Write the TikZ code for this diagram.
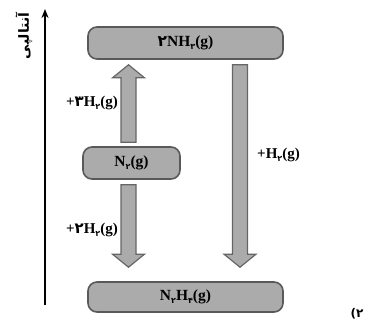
\documentclass[tikz,border=0pt]{standalone}
\usepackage{fontspec}
\setmainfont{Liberation Serif}
\newfontfamily\fa[Script=Arabic]{DejaVu Sans}
\newfontfamily\fad{DejaVu Sans}
\TeXXeTstate=1
\usetikzlibrary{arrows.meta,calc}
\newcommand\pd[1]{{\fad #1}}
\newcommand\sbs[1]{\raisebox{-0.4ex}{\footnotesize\fad #1}}
\newcommand\fatarrow[2]{%
  \coordinate (hb) at ($(#2)!13pt!(#1)$);
  \draw[fatarrowstyle] ($(#1)!7.5pt!90:(#2)$) -- ($(hb)!7.5pt!-90:(#1)$) -- ($(hb)!16pt!-90:(#1)$) -- (#2)
    -- ($(hb)!16pt!90:(#1)$) -- ($(hb)!7.5pt!90:(#1)$) -- ($(#1)!7.5pt!-90:(#2)$) -- cycle;}
\begin{document}
\begin{tikzpicture}[x=1pt,y=-1pt,
  level/.style={draw=black!65, line width=1.6pt, fill=black!33, rounded corners=9pt, inner sep=0pt,
    font=\bfseries\fontsize{15.5}{17}\selectfont},
  fatarrowstyle/.style={draw=black!60, line width=1.2pt, fill=black!33, line join=miter},
  lbl/.style={font=\bfseries\fontsize{15}{17}\selectfont, inner sep=1pt},
  axis/.style={line width=1.6pt, -{Stealth[length=9pt,width=7pt]}}]
\useasboundingbox (0,0) rectangle (369,327);
\node[level, minimum width=195pt, minimum height=32pt] (top) at (185.5,43) {\pd{۲}NH\sbs{۳}(g)};
\node[level, minimum width=97pt, minimum height=32pt] (n2) at (131.5,163) {N\sbs{۲}(g)};
\node[level, minimum width=195pt, minimum height=30pt] (bot) at (185.5,297) {N\sbs{۲}H\sbs{۴}(g)};
% up arrow N2 -> 2NH3
\coordinate (ua) at ([xshift=-3pt,yshift=4pt]n2.north);
\coordinate (ub) at ($(ua |- top.south)+(0,-5pt)$);
\fatarrow{ua}{ub}
% down arrow N2 -> N2H4
\coordinate (da) at ([xshift=-3pt,yshift=-5pt]n2.south);
\coordinate (db) at ($(da |- bot.north)+(0,14pt)$);
\fatarrow{da}{db}
% right arrow 2NH3 -> N2H4
\coordinate (ra) at ([xshift=54.5pt,yshift=-5pt]top.south);
\coordinate (rb) at ($(ra |- bot.north)+(0,14pt)$);
\fatarrow{ra}{rb}
% labels
\node[lbl, anchor=east] (l1) at (119,103) {+\pd{۳}H\sbs{۲}(g)};
\node[lbl, anchor=west] (l2) at (256,155) {+H\sbs{۲}(g)};
\node[lbl, anchor=east] (l3) at (119,230) {+\pd{۲}H\sbs{۲}(g)};
% axis
\coordinate (ax0) at (45,305);
\coordinate (ax1) at (45,9);
\draw[axis] (ax0) -- (ax1);
\node[rotate=90, font=\fa\bfseries\fontsize{14}{16}\selectfont, inner sep=0pt] (ylab) at (24,36) {\beginR آنتالپی\endR};
\node[font=\fad\bfseries\fontsize{12}{14}\selectfont, inner sep=0pt] (num) at (357,314) {(۲};
\end{tikzpicture}
\end{document}
